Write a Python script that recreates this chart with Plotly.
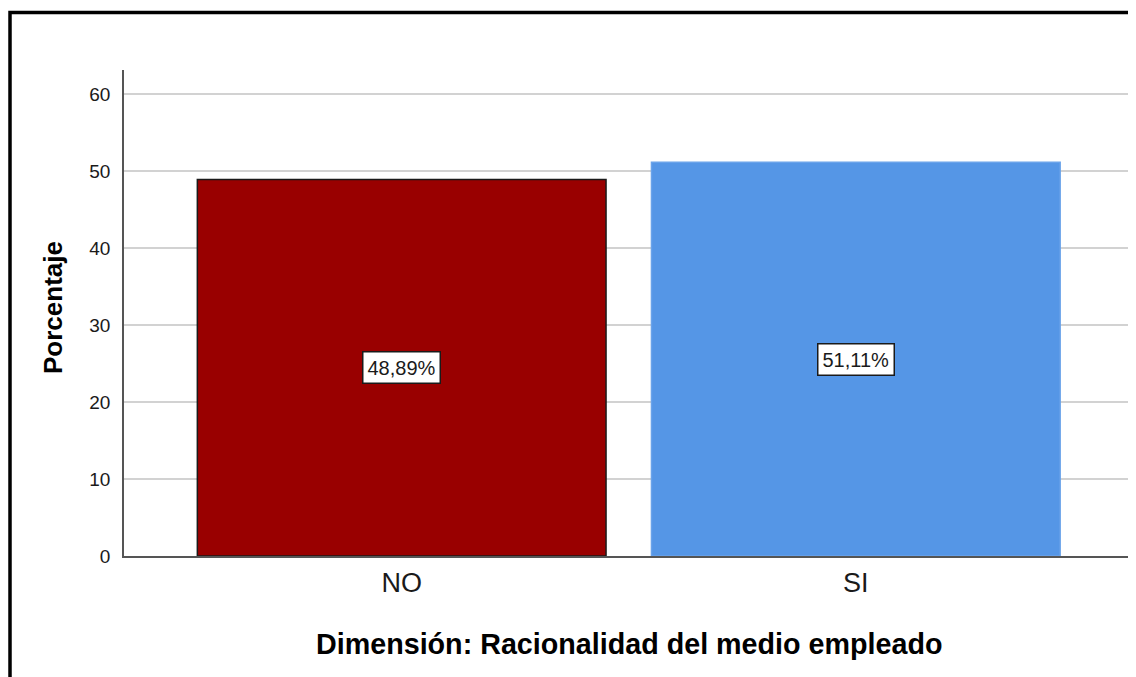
import plotly.graph_objects as go

categories = ["NO", "SI"]
percentages = [48.89, 51.11]
value_labels = ["48,89%", "51,11%"]
bar_colors = ["#990000", "#5596E6"]
line_colors = ["#1a1a1a", "#6aa3ea"]
y_ticks = [0, 10, 20, 30, 40, 50, 60]
x_title = "Dimensión: Racionalidad del medio empleado"
y_title = "Porcentaje"

FONT = "Liberation Sans, Arial, sans-serif"

OFF = 8  # page body margin in the browser
W, H = 1136 - OFF, 677 - OFF
L, R, T, B = 124 - OFF, 3, 70 - OFF, 121
plot_h = H - T - B
plot_w = W - L - R

def px_to_paper_x(px):
    return (px - OFF - L) / plot_w

def px_to_paper_y(py):
    return (H - B - (py - OFF)) / plot_h

fig = go.Figure()
fig.add_trace(go.Bar(
    x=categories,
    y=percentages,
    width=0.9,
    marker=dict(color=bar_colors, line=dict(color=line_colors, width=1.5)),
    hoverinfo="skip",
))

for c, v, lab in zip(categories, percentages, value_labels):
    fig.add_annotation(
        x=c, y=v / 2, text=lab, showarrow=False,
        font=dict(family=FONT, size=20, color="#1a1a1a"),
        bgcolor="white", bordercolor="#1a1a1a", borderwidth=1.5, borderpad=4,
        xanchor="center", yanchor="middle",
    )

fig.add_annotation(
    xref="paper", yref="paper", x=0.5, y=px_to_paper_y(644),
    text=x_title, showarrow=False,
    font=dict(family=FONT, size=28.7, color="black", weight="bold"),
    xanchor="center", yanchor="middle",
)
fig.add_annotation(
    xref="paper", yref="paper", x=px_to_paper_x(53), y=px_to_paper_y(308),
    text=y_title, showarrow=False, textangle=-90,
    font=dict(family=FONT, size=26, color="black", weight="bold"),
    xanchor="center", yanchor="middle",
)

# outer frame
fig.add_shape(
    type="rect", xref="paper", yref="paper",
    x0=px_to_paper_x(10), x1=px_to_paper_x(1150),
    y0=px_to_paper_y(700), y1=px_to_paper_y(12.5),
    line=dict(color="black", width=3.5), fillcolor="rgba(0,0,0,0)",
    layer="above",
)

fig.update_layout(
    width=W, height=H,
    margin=dict(l=L, r=R, t=T, b=B, pad=0),
    paper_bgcolor="white", plot_bgcolor="white",
    showlegend=False,
    font=dict(family=FONT, color="#1a1a1a"),
    bargap=0.1,
)
fig.update_xaxes(
    type="category", categoryorder="array", categoryarray=categories,
    range=[-0.6115, 1.6104],
    showline=True, linecolor="#555555", linewidth=1.5,
    showgrid=False, zeroline=False, ticks="",
    tickfont=dict(family=FONT, size=27, color="#1a1a1a"),
    ticklabelstandoff=2,
)
fig.update_yaxes(
    range=[0, 63.1], tickvals=y_ticks,
    showline=True, linecolor="#555555", linewidth=1.5,
    showgrid=True, gridcolor="#d2d2d2", gridwidth=2,
    zeroline=False, ticks="",
    tickfont=dict(family=FONT, size=19, color="#1a1a1a"),
    ticklabelstandoff=8,
)

fig.write_html("out.html")
